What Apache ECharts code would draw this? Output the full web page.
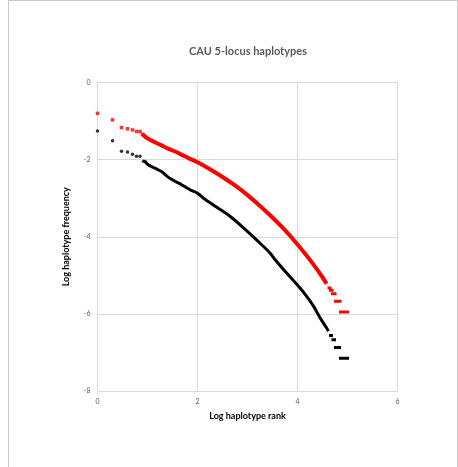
<!DOCTYPE html>
<html>
<head>
<meta charset="utf-8">
<script src="https://cdn.jsdelivr.net/npm/echarts@6/dist/echarts.min.js"></script>
<style>
  html, body { margin: 0; padding: 0; background: #fff; }
  #chart { width: 458px; height: 467px; }
</style>
</head>
<body>
<div id="chart"></div>
<script>
// first ranks, drawn as separate markers
const redHead = [[0, -0.80], [0.30, -0.97], [0.48, -1.17], [0.60, -1.20], [0.70, -1.23], [0.78, -1.27], [0.85, -1.27], [0.90, -1.34]];
const blackHead = [[0, -1.26], [0.30, -1.51], [0.48, -1.78], [0.60, -1.80], [0.70, -1.86], [0.78, -1.91], [0.85, -1.91], [0.92, -2.04], [0.95, -2.05]];

// dense part of each curve
const redCurve = [
  [0.90, -1.34], [1.0, -1.45], [1.15, -1.55], [1.28, -1.63], [1.42, -1.72], [1.55, -1.79],
  [1.68, -1.87], [1.82, -1.96], [2.0, -2.07], [2.25, -2.25], [2.5, -2.45], [2.75, -2.67],
  [3.0, -2.92], [3.25, -3.20], [3.5, -3.50], [3.75, -3.83], [4.0, -4.20], [4.25, -4.60],
  [4.5, -5.05], [4.58, -5.22]
];
const blackCurve = [
  [0.95, -2.05], [1.02, -2.14], [1.15, -2.22], [1.28, -2.31], [1.42, -2.46], [1.55, -2.56],
  [1.68, -2.65], [1.85, -2.78], [2.0, -2.87], [2.12, -3.0], [2.38, -3.23], [2.65, -3.47],
  [2.92, -3.77], [3.18, -4.08], [3.45, -4.42], [3.55, -4.59], [3.72, -4.85], [4.05, -5.33],
  [4.18, -5.54], [4.32, -5.80], [4.45, -6.10], [4.58, -6.36], [4.62, -6.45]
];

// flat runs at the tail: [fromX, toX, y]
const redTail = [[4.60, 4.68, -5.33], [4.63, 4.72, -5.39], [4.67, 4.78, -5.48], [4.73, 4.88, -5.67], [4.83, 5.03, -5.95]];
const blackTail = [[4.63, 4.71, -6.56], [4.68, 4.77, -6.67], [4.73, 4.87, -6.87], [4.83, 5.03, -7.15]];

const RED = '#ff0000';
const BLACK = '#000000';
const FONT = 'Lato, "Open Sans", sans-serif';

const chart = echarts.init(document.getElementById('chart'));

function tailSeries(tail, color, width) {
  return tail.map(([x0, x1, y]) => ({
    type: 'line',
    data: [[x0, y], [x1, y]],
    showSymbol: false,
    silent: true,
    lineStyle: { color: color, width: width, cap: 'butt' }
  }));
}

chart.setOption({
  animation: false,
  title: {
    text: 'CAU 5-locus haplotypes',
    left: 243,
    textAlign: 'center',
    top: 41,
    textStyle: { fontFamily: FONT, fontSize: 11, fontWeight: 'bold', color: '#595959' }
  },
  graphic: [
    {
      type: 'polyline',
      shape: { points: [[8.5, 467], [8.5, 0.5], [457.5, 0.5], [457.5, 467]] },
      style: { stroke: '#c8c8c8', lineWidth: 1, fill: null }
    }
  ],
  grid: { left: 97.5, right: 60.5, top: 82.5, bottom: 76 },
  xAxis: {
    type: 'value',
    min: 0, max: 6, interval: 2,
    name: 'Log haplotype rank',
    nameLocation: 'middle',
    nameGap: 21,
    nameTextStyle: { fontFamily: FONT, fontSize: 9, fontWeight: 'bold', color: '#000' },
    axisLine: { show: true, lineStyle: { color: '#d9d9d9' } },
    axisTick: { show: false },
    axisLabel: { fontFamily: FONT, fontSize: 7, color: '#595959', margin: 7 },
    splitLine: { show: true, lineStyle: { color: '#d9d9d9' } }
  },
  yAxis: {
    type: 'value',
    min: -8, max: 0, interval: 2,
    name: 'Log haplotype frequency',
    nameLocation: 'middle',
    nameGap: 27,
    nameTextStyle: { fontFamily: FONT, fontSize: 9, fontWeight: 'bold', color: '#000' },
    axisLine: { show: true, lineStyle: { color: '#d9d9d9' } },
    axisTick: { show: false },
    axisLabel: { fontFamily: FONT, fontSize: 7, color: '#595959', margin: 7 },
    splitLine: { show: true, lineStyle: { color: '#d9d9d9' } }
  },
  series: [
    { type: 'scatter', data: redHead, symbol: 'rect', symbolSize: 3.5, itemStyle: { color: RED } },
    { type: 'scatter', data: blackHead, symbol: 'circle', symbolSize: 3.5, itemStyle: { color: BLACK } },
    { type: 'line', data: redCurve, showSymbol: false, smooth: 0.3, lineStyle: { color: RED, width: 4 } },
    { type: 'line', data: blackCurve, showSymbol: false, smooth: 0.3, lineStyle: { color: BLACK, width: 3 } },
    ...tailSeries(redTail, RED, 3),
    ...tailSeries(blackTail, BLACK, 3)
  ]
});
</script>
</body>
</html>
